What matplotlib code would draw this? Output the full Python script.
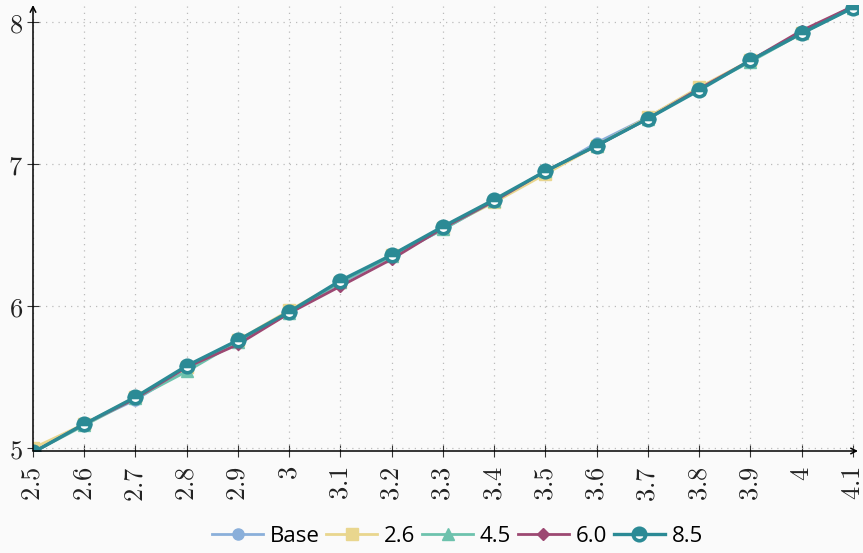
import matplotlib
matplotlib.use("Agg")
from matplotlib import pyplot as plt

# x positions and the five series
x = [2.5, 2.6, 2.7, 2.8, 2.9, 3.0, 3.1, 3.2, 3.3, 3.4, 3.5, 3.6, 3.7, 3.8, 3.9, 4.0, 4.1]
base = [4.97, 5.17, 5.34, 5.56, 5.75, 5.96, 6.16, 6.35, 6.54, 6.74, 6.94, 7.15, 7.33, 7.53, 7.73, 7.93, 8.11]
s26 = [5.00, 5.17, 5.36, 5.57, 5.76, 5.97, 6.17, 6.36, 6.55, 6.73, 6.93, 7.13, 7.33, 7.54, 7.73, 7.92, 8.11]
s45 = [4.97, 5.16, 5.35, 5.54, 5.75, 5.95, 6.17, 6.35, 6.54, 6.74, 6.95, 7.13, 7.32, 7.53, 7.72, 7.92, 8.10]
s60 = [4.97, 5.17, 5.35, 5.57, 5.73, 5.95, 6.14, 6.33, 6.55, 6.74, 6.95, 7.13, 7.32, 7.53, 7.73, 7.94, 8.11]
s85 = [4.97, 5.17, 5.36, 5.58, 5.76, 5.96, 6.18, 6.36, 6.56, 6.75, 6.95, 7.13, 7.32, 7.52, 7.73, 7.92, 8.10]

labels = ['Base', '2.6', '4.5', '6.0', '8.5']
colors = ['#8aafda', '#e9d68e', '#6dc2ad', '#9c4872', '#2b8a95']

bg = '#fafafa'
fig = plt.figure(figsize=(8.63, 5.53), dpi=100, facecolor=bg)
ax = fig.add_axes([33 / 863, 1 - 451 / 553, 825 / 863, 446 / 553], facecolor=bg)

ax.plot(x, base, '-o', color=colors[0], lw=2, ms=8, label=labels[0])
ax.plot(x, s26, '-s', color=colors[1], lw=2, ms=8, label=labels[1])
ax.plot(x, s45, '-^', color=colors[2], lw=2, ms=8, label=labels[2])
ax.plot(x, s60, '-D', color=colors[3], lw=2, ms=6, label=labels[3])
ax.plot(x, s85, '-o', color=colors[4], lw=2.4, ms=9, mew=2.6,
        fillstyle='top', markerfacecoloralt='white', label=labels[4])

ax.set_xlim(2.5, 4.11)
ax.set_ylim(4.98, 8.12)
ax.set_xticks(x)
ax.set_xticklabels(['$%g$' % v for v in x], rotation=90, fontsize=19, color='#222222')
ax.set_yticks([5, 6, 7, 8])
ax.set_yticklabels(['$5$', '$6$', '$7$', '$8$'], fontsize=19, color='#222222')
for t in ax.get_xticklabels() + ax.get_yticklabels():
    t.set_math_fontfamily('cm')

ax.tick_params(direction='inout', length=8, width=0.8, color='#333333')
ax.tick_params(axis='x', pad=7)
ax.tick_params(axis='y', pad=3)
ax.grid(True, linestyle=(0, (1, 4)), color='#bbbbbb', lw=0.9)
for sp in ax.spines.values():
    sp.set_visible(False)

# axis lines with arrow heads
ax.annotate('', xy=(1.0, 0), xytext=(0, 0), xycoords='axes fraction',
            arrowprops=dict(arrowstyle='->', lw=1.1, color='black', shrinkA=0, shrinkB=0))
ax.annotate('', xy=(0, 1.0), xytext=(0, 0), xycoords='axes fraction',
            arrowprops=dict(arrowstyle='->', lw=1.1, color='black', shrinkA=0, shrinkB=0))

leg = fig.legend(loc='lower center', bbox_to_anchor=(0.53, -0.025), ncol=5, frameon=False,
                 prop={'family': 'Open Sans', 'size': 16}, handlelength=2.3,
                 handletextpad=0.3, columnspacing=0.3)

fig.savefig('out.png', dpi=100, facecolor=bg)
